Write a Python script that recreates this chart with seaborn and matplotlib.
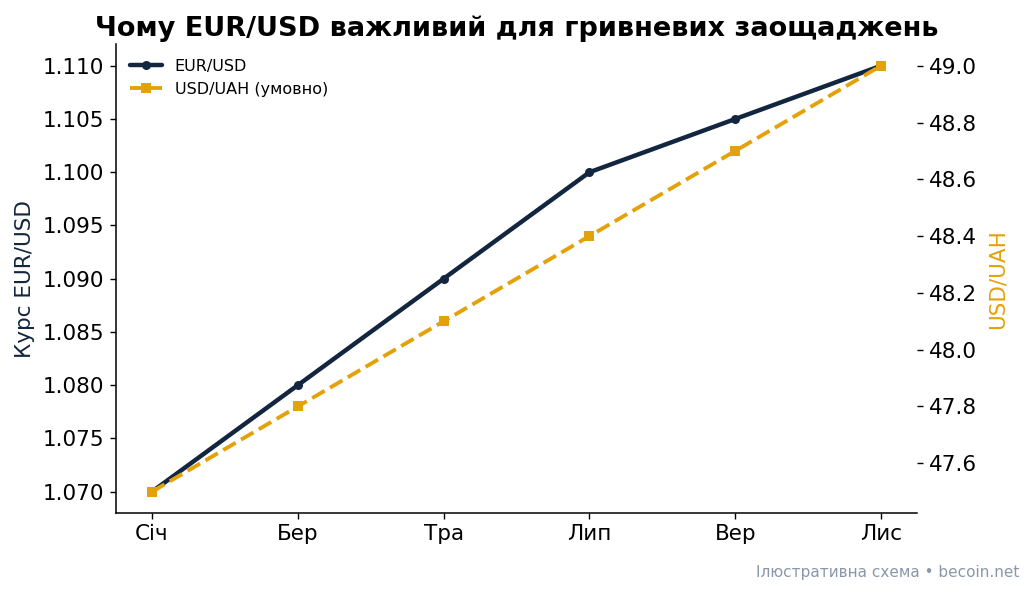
import matplotlib
matplotlib.use("Agg")
import matplotlib.pyplot as plt
import seaborn as sns
import pandas as pd

months = ["Січ", "Бер", "Тра", "Лип", "Вер", "Лис"]
eurusd = [1.070, 1.080, 1.090, 1.100, 1.105, 1.110]
usduah = [47.5, 47.8, 48.1, 48.4, 48.7, 49.0]

sns.set_theme(style="ticks")
plt.rcParams['font.family'] = ['DejaVu Sans']
plt.rcParams.update({
    "xtick.color": "black", "ytick.color": "black",
    "xtick.labelcolor": "black", "ytick.labelcolor": "black",
    "axes.edgecolor": "black", "text.color": "black",
    "xtick.major.size": 4.5, "ytick.major.size": 4.5,
    "xtick.major.width": 1.0, "ytick.major.width": 1.0,
    "axes.linewidth": 1.1,
})

navy = "#13263f"
gold = "#e3a20a"

df = pd.DataFrame({"m": months, "x": range(len(months)), "eur": eurusd, "uah": usduah})

fig, ax = plt.subplots(figsize=(10.32, 5.93), dpi=100)
fig.subplots_adjust(left=0.112, right=0.889, top=0.925, bottom=0.135)

sns.lineplot(data=df, x="x", y="eur", ax=ax, color=navy, lw=3.2, marker="o",
             markersize=6.5, markeredgewidth=0, label="EUR/USD", legend=False)
ax2 = ax.twinx()
sns.lineplot(data=df, x="x", y="uah", ax=ax2, color=gold, lw=2.8, marker="s",
             markersize=6.5, markeredgewidth=0, linestyle="--", label="USD/UAH (умовно)", legend=False)

ax.set_xticks(range(len(months)))
ax.set_xticklabels(months)
ax.set_xlabel("")
ax.set_ylabel("Курс EUR/USD", color=navy, fontsize=15.5, labelpad=6)
ax2.set_ylabel("USD/UAH", color=gold, fontsize=15.5, labelpad=8)
ax.yaxis.set_major_formatter(matplotlib.ticker.FormatStrFormatter("%.3f"))
ax2.yaxis.set_major_formatter(matplotlib.ticker.FormatStrFormatter("%.1f"))
ax.tick_params(labelsize=15.5)
ax2.tick_params(labelsize=15.5)

for s in ["top", "right"]:
    ax.spines[s].set_visible(False)
for s in ["top", "right", "left", "bottom"]:
    ax2.spines[s].set_visible(False)

h1, l1 = ax.get_legend_handles_labels()
h2, l2 = ax2.get_legend_handles_labels()
ax.legend(h1 + h2, l1 + l2, loc="upper left", frameon=False, fontsize=11.5)

ax.set_title("Чому EUR/USD важливий для гривневих заощаджень", fontsize=19.5,
             fontweight="bold", pad=6)
fig.text(0.988, 0.035, "Ілюстративна схема • becoin.net", ha="right", va="center",
         fontsize=11, color="#8a96aa")

fig.savefig("out.png", dpi=100)
